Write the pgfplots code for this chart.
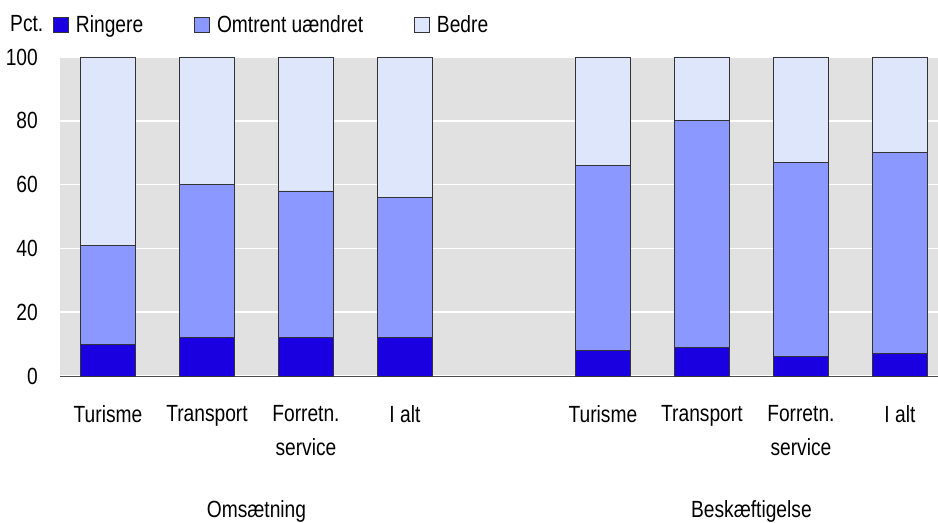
\documentclass[border=0pt]{standalone}
\usepackage{fontspec}
\setmainfont{Liberation Sans}[FakeStretch=0.82]
\usepackage{pgfplots}
\pgfplotsset{compat=1.18}
\definecolor{cRing}{RGB}{26,0,224}
\definecolor{cOmtr}{RGB}{138,152,255}
\definecolor{cBedre}{RGB}{222,230,252}
\definecolor{bgGray}{RGB}{225,225,225}
\newcommand{\F}{\fontsize{23.5}{34}\selectfont}
\pgfplotsset{sqleg/.style={legend image code/.code={\draw[##1, draw=black!80, line width=0.8bp] (0bp,-7.5bp) rectangle (15bp,7.5bp);}}}
\begin{document}
\begin{tikzpicture}
\begin{axis}[
  at={(60bp,147bp)}, anchor=south west,
  scale only axis, width=878bp, height=319bp,
  xmin=-0.485, xmax=8.385, ymin=0, ymax=100, enlargelimits=false,
  ybar stacked, bar width=0.56,
  axis background/.style={fill=bgGray},
  axis x line*=bottom, axis y line*=left,
  y axis line style={draw=none},
  x axis line style={-, draw=black!70, line width=1bp},
  ytick={0,20,...,100},
  xtick={0,1,2,3,5,6,7,8},
  xticklabels={Turisme,Transport,{Forretn.\\service},I alt,Turisme,Transport,{Forretn.\\service},I alt},
  major tick length=0,
  ymajorgrids, grid style={white, line width=1.6bp},
  tick label style={font=\F},
  /pgf/number format/assume math mode=true,
  xticklabel style={anchor=north, align=center, inner sep=0pt, yshift=-29bp},
  yticklabel style={anchor=east, inner sep=0pt, xshift=-22bp},
  legend columns=3,
  legend style={at={(-0.008,1.10)}, anchor=west, draw=none, fill=none, inner sep=0pt,
    nodes={inner sep=0pt, font=\F},
    /tikz/every odd column/.append style={column sep=7bp},
    /tikz/every even column/.append style={column sep=51bp}},
  clip=false,
]
\addplot[fill=cRing, draw=black!80, line width=0.8bp, sqleg] coordinates {(0,10) (1,12) (2,12) (3,12) (5,8) (6,9) (7,6) (8,7)};
\addlegendentry{Ringere}
\addplot[fill=cOmtr, draw=black!80, line width=0.8bp, sqleg] coordinates {(0,31) (1,48) (2,46) (3,44) (5,58) (6,71) (7,61) (8,63)};
\addlegendentry{Omtrent uændret}
\addplot[fill=cBedre, draw=black!80, line width=0.8bp, sqleg] coordinates {(0,59) (1,40) (2,42) (3,44) (5,34) (6,20) (7,33) (8,30)};
\addlegendentry{Bedre}
\node[font=\F, anchor=base, inner sep=0pt] at (axis cs:1.5,-44.5) {Omsætning};
\node[font=\F, anchor=base, inner sep=0pt] at (axis cs:6.5,-44.5) {Beskæftigelse};
\end{axis}
\node[font=\F, anchor=base west, inner sep=0pt] at (10bp,491bp) {Pct.};
\pgfresetboundingbox
\path[use as bounding box] (0,0) rectangle (938bp,523bp);
\end{tikzpicture}
\end{document}
